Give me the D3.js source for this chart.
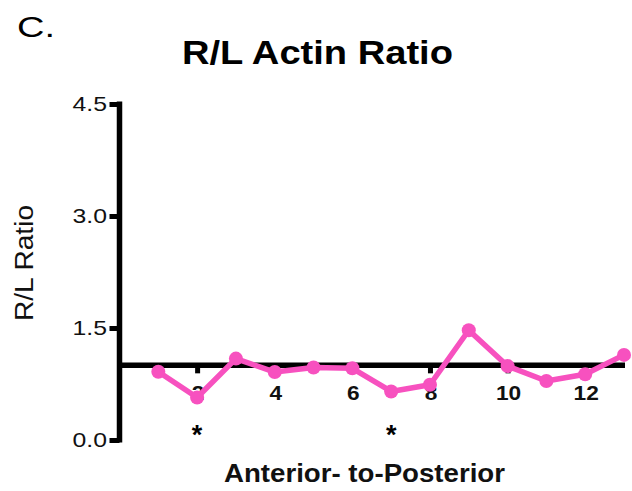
<!DOCTYPE html>
<html>
<head>
<meta charset="utf-8">
<script src="https://cdn.jsdelivr.net/npm/d3@7"></script>
<style>
  body { margin: 0; background: #fff; }
  text { font-family: "Liberation Sans", Arial, sans-serif; }
</style>
</head>
<body>
<div id="chart"></div>
<script>
// segment positions and the R/L ratio read at each one
var segments = [1, 2, 3, 4, 5, 6, 7, 8, 9, 10, 11, 12, 13]
var ratios = [0.915, 0.57, 1.09, 0.91, 0.97, 0.96, 0.65, 0.74, 1.47, 0.99, 0.79, 0.88, 1.14]
var xTicks = [2, 4, 6, 8, 10, 12]
var yTicks = [0, 1.5, 3.0, 4.5]
var starred = [2, 7]
var baseline = 1

var W = 632, H = 491
var pink = "#f751bf"

var svg = d3.select("#chart").append("svg")
  .attr("width", W)
  .attr("height", H)

var x = d3.scaleLinear().domain([0, 13]).range([119.5, 624])
var y = d3.scaleLinear().domain([0, 4.5]).range([440, 104])

// the original figure is a bit wider than its type, so stretch text to fit
function fit(sel, len)
{
  sel.attr("textLength", len).attr("lengthAdjust", "spacingAndGlyphs")
}

// panel letter and title
svg.append("text")
  .attr("x", 17).attr("y", 37)
  .attr("font-size", 30)
  .call(fit, 38)
  .text("C.")

svg.append("text")
  .attr("x", 182).attr("y", 64)
  .attr("font-size", 33)
  .attr("font-weight", "bold")
  .call(fit, 271)
  .text("R/L Actin Ratio")

// y axis (tick marks from d3.axisLeft, labels drawn below)
var yAxis = d3.axisLeft(y)
  .tickValues(yTicks)
  .tickFormat("")
  .tickSize(10)

var yG = svg.append("g")
  .attr("transform", "translate(" + x(0) + ",0)")
  .call(yAxis)

yG.select(".domain").remove()
yG.append("line")
  .attr("x1", 0).attr("x2", 0)
  .attr("y1", y(4.5) - 2.5).attr("y2", y(0) + 2.5)
  .attr("stroke", "#000").attr("stroke-width", 5.5)
yG.selectAll(".tick line").attr("stroke-width", 5)

svg.selectAll(".ylbl")
  .data(yTicks)
  .enter()
  .append("text")
  .attr("class", "ylbl")
  .attr("text-anchor", "end")
  .attr("font-size", 20)
  .attr("fill", "#111")
  .attr("transform", function(d) {
    return "translate(107," + (y(d) + 7) + ") scale(1.24,1)"
  })
  .text(d3.format(".1f"))

svg.append("text")
  .attr("transform", "translate(33," + 263 + ") rotate(-90)")
  .attr("text-anchor", "middle")
  .attr("font-size", 26)
  .attr("fill", "#111")
  .call(fit, 116)
  .text("R/L Ratio")

// x axis drawn at ratio = 1
var xAxis = d3.axisBottom(x)
  .tickValues(xTicks)
  .tickFormat("")
  .tickSize(8)

var xG = svg.append("g")
  .attr("transform", "translate(0," + y(baseline) + ")")
  .call(xAxis)

xG.select(".domain").remove()
xG.append("line")
  .attr("x1", x(0)).attr("x2", x(13) + 1)
  .attr("y1", 0).attr("y2", 0)
  .attr("stroke", "#000").attr("stroke-width", 5.5)
xG.selectAll(".tick line").attr("stroke-width", 5)

svg.selectAll(".xlbl")
  .data(xTicks)
  .enter()
  .append("text")
  .attr("class", "xlbl")
  .attr("text-anchor", "middle")
  .attr("font-size", 21)
  .attr("font-weight", "bold")
  .attr("fill", "#111")
  .attr("transform", function(d) {
    return "translate(" + (x(d) + 1) + ",400) scale(1.08,1)"
  })
  .text(function(d) { return d })

svg.append("text")
  .attr("x", 224).attr("y", 482)
  .attr("font-size", 26)
  .attr("font-weight", "bold")
  .attr("fill", "#111")
  .call(fit, 281)
  .text("Anterior- to-Posterior")

// significance stars
svg.selectAll(".star")
  .data(starred)
  .enter()
  .append("text")
  .attr("class", "star")
  .attr("x", function(d) { return x(d) })
  .attr("y", 444)
  .attr("text-anchor", "middle")
  .attr("font-size", 27)
  .attr("font-weight", "bold")
  .text("*")

// data line and points
var pts = segments.map(function(s, i) { return [s, ratios[i]] })

svg.append("path")
  .datum(pts)
  .attr("fill", "none")
  .attr("stroke", pink)
  .attr("stroke-width", 5.5)
  .attr("stroke-linejoin", "round")
  .attr("d", d3.line()
    .x(function(d) { return x(d[0]) })
    .y(function(d) { return y(d[1]) }))

svg.selectAll(".pt")
  .data(pts)
  .enter()
  .append("circle")
  .attr("class", "pt")
  .attr("cx", function(d) { return x(d[0]) })
  .attr("cy", function(d) { return y(d[1]) })
  .attr("r", 7)
  .attr("fill", pink)
</script>
</body>
</html>
